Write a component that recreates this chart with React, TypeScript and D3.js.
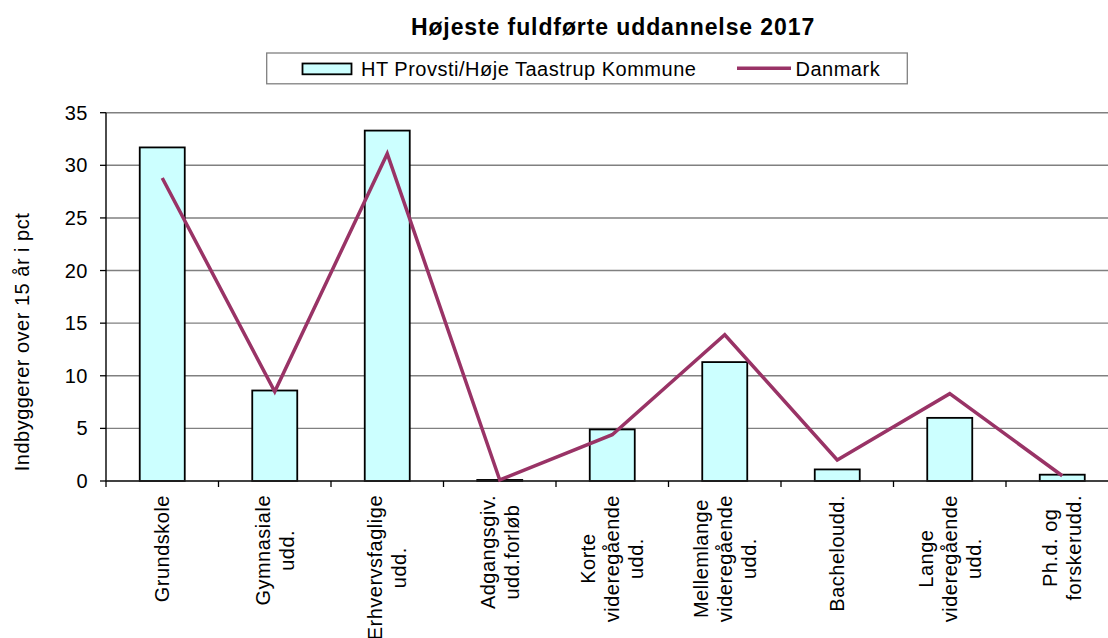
import React from "react";
import * as d3 from "d3";

const categories: string[][] = [
  ["Grundskole"],
  ["Gymnasiale", "udd."],
  ["Erhvervsfaglige", "udd."],
  ["Adgangsgiv.", "udd.forløb"],
  ["Korte", "videregående", "udd."],
  ["Mellemlange", "videregående", "udd."],
  ["Bacheloudd."],
  ["Lange", "videregående", "udd."],
  ["Ph.d. og", "forskerudd."],
];
const htValues = [31.7, 8.6, 33.3, 0.1, 4.9, 11.3, 1.1, 6.0, 0.6];
const dkValues = [28.8, 8.5, 31.1, 0.1, 4.4, 13.9, 2.0, 8.3, 0.5];
const yTicks = [0, 5, 10, 15, 20, 25, 30, 35];

const TITLE = "Højeste fuldførte uddannelse 2017";
const SERIES1 = "HT Provsti/Høje Taastrup Kommune";
const SERIES2 = "Danmark";
const YLABEL = "Indbyggerer over 15 år i pct";

const W = 1108;
const H = 638;
const FONT = "'Liberation Sans', Arial, Helvetica, sans-serif";
const FS = 20;
const LS = 0.5;

function measure(s: string): number {
  const c = document.createElement("canvas").getContext("2d")!;
  c.font = `${FS}px ${FONT}`;
  return c.measureText(s).width + LS * s.length;
}

export default function App() {
  const left = 106;
  const right = 1118.5;
  const top = 112.7;
  const bottom = 481;

  const x = d3
    .scaleBand<number>()
    .domain(categories.map((_, i) => i))
    .range([left, right])
    .padding(0);
  const y = d3.scaleLinear().domain([0, 35]).range([bottom, top]);
  const bw = x.bandwidth() * 0.4;
  const cx = (i: number) => (x(i) as number) + x.bandwidth() / 2;

  const line = d3
    .line<number>()
    .x((_, i) => cx(i))
    .y((d) => y(d));

  const textStyle = { fontFamily: FONT, fontSize: FS, letterSpacing: LS };

  return (
    <svg
      width={W}
      height={H}
      style={{ position: "absolute", left: 0, top: 0, display: "block", background: "#fff" }}
    >
      <rect x={0} y={0} width={W} height={H} fill="#fff" />
      {/* title */}
      <text
        x={613}
        y={35}
        textAnchor="middle"
        style={{ fontFamily: FONT, fontSize: 23, fontWeight: "bold", letterSpacing: 0.9 }}
      >
        {TITLE}
      </text>

      {/* legend */}
      <rect x={266.7} y={53} width={640.6} height={30.8} fill="#fff" stroke="#808080" strokeWidth={1.3} />
      <rect x={302.5} y={63.5} width={49} height={10.8} fill="#CCFFFF" stroke="#000" strokeWidth={1.8} />
      <text x={361} y={76} style={textStyle}>{SERIES1}</text>
      <line x1={737} x2={791} y1={68.3} y2={68.3} stroke="#993366" strokeWidth={3.5} />
      <text x={795.5} y={76} style={textStyle}>{SERIES2}</text>

      {/* gridlines */}
      {yTicks.map((t) => (
        <line key={"g" + t} x1={left} x2={right} y1={y(t)} y2={y(t)} stroke="#808080" strokeWidth={1.4} />
      ))}

      {/* bars */}
      {htValues.map((v, i) => (
        <rect
          key={"b" + i}
          x={cx(i) - bw / 2}
          y={y(v)}
          width={bw}
          height={bottom - y(v)}
          fill="#CCFFFF"
          stroke="#000"
          strokeWidth={1.8}
        />
      ))}

      {/* axes */}
      <line x1={left} x2={left} y1={top} y2={bottom} stroke="#000" strokeWidth={1.4} />
      <line x1={left} x2={right} y1={bottom} y2={bottom} stroke="#222" strokeWidth={1.5} />
      {yTicks.map((t) => (
        <g key={"yt" + t}>
          <line x1={100} x2={left} y1={y(t)} y2={y(t)} stroke="#000" strokeWidth={1.3} />
          <text x={88} y={y(t)} textAnchor="end" dominantBaseline="central" style={textStyle}>
            {t}
          </text>
        </g>
      ))}
      {d3.range(categories.length + 1).map((i) => {
        const xx = left + i * x.bandwidth();
        return <line key={"xt" + i} x1={xx} x2={xx} y1={bottom} y2={bottom + 6} stroke="#000" strokeWidth={1.3} />;
      })}

      {/* line series */}
      <path d={line(dkValues) || ""} fill="none" stroke="#993366" strokeWidth={3.5} strokeLinejoin="miter" />

      {/* x labels */}
      {categories.map((lines, i) => {
        const maxW = Math.max(...lines.map(measure));
        const cy = 495 + maxW / 2;
        const n = lines.length;
        return (
          <g key={"xl" + i} transform={`translate(${cx(i)},${cy}) rotate(-90)`}>
            {lines.map((s, j) => (
              <text
                key={j}
                x={0}
                y={(j - (n - 1) / 2) * 24}
                textAnchor="middle"
                dominantBaseline="central"
                style={textStyle}
              >
                {s}
              </text>
            ))}
          </g>
        );
      })}

      {/* y label */}
      <text
        transform={`translate(22,342) rotate(-90)`}
        textAnchor="middle"
        dominantBaseline="central"
        style={textStyle}
      >
        {YLABEL}
      </text>
    </svg>
  );
}
